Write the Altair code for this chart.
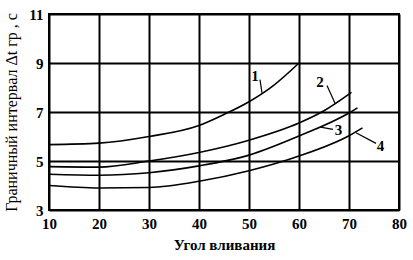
import altair as alt
import pandas as pd

# Curve data (x = pouring angle, y = boundary interval, s)
c1_x = [10, 20, 30, 40, 45, 50, 55, 60]
c1_y = [5.67, 5.73, 6.0, 6.45, 6.9, 7.42, 8.1, 9.0]
c2_x = [10, 20, 30, 40, 50, 60, 65, 70.5]
c2_y = [4.77, 4.75, 5.0, 5.35, 5.85, 6.55, 7.05, 7.8]
c3_x = [10, 20, 30, 40, 50, 60, 70, 71.7]
c3_y = [4.46, 4.42, 4.52, 4.8, 5.24, 6.02, 6.96, 7.17]
c4_x = [10, 20, 30, 40, 50, 60, 70, 72.7]
c4_y = [4.0, 3.9, 3.92, 4.17, 4.6, 5.2, 6.03, 6.35]

# Curve labels and leader lines
lab_text = ["1", "2", "3", "4"]
lab_x = [51.2, 64.2, 67.9, 76.3]
lab_y = [8.48, 8.24, 6.25, 5.6]
lead_x1 = [52.2, 65.6, 66.8, 71.4]
lead_y1 = [8.32, 8.08, 6.29, 6.15]
lead_x2 = [52.6, 67.2, 64.3, 75.4]
lead_y2 = [7.78, 7.36, 6.38, 5.72]

x_ticks = [10, 20, 30, 40, 50, 60, 70, 80]
y_ticks = [3, 5, 7, 9, 11]

rows = []
for name, xs, ys in [("1", c1_x, c1_y), ("2", c2_x, c2_y), ("3", c3_x, c3_y), ("4", c4_x, c4_y)]:
    for xv, yv in zip(xs, ys):
        rows.append({"curve": name, "x": xv, "y": yv})
curves = pd.DataFrame(rows)
labels = pd.DataFrame({"t": lab_text, "x": lab_x, "y": lab_y})
leaders = pd.DataFrame({"x": lead_x1, "y": lead_y1, "x2": lead_x2, "y2": lead_y2})

FONT = "Liberation Serif"

xs = alt.Scale(domain=[10, 80], nice=False, zero=False)
ys = alt.Scale(domain=[3, 11], nice=False, zero=False)

x_axis = alt.Axis(values=x_ticks, title="Угол вливания", grid=True, gridColor="black",
                  gridWidth=2, gridOpacity=1, ticks=False, domain=False, labelPadding=6,
                  labelFont=FONT, labelFontSize=15, labelFontWeight="bold", labelColor="black",
                  titleFont=FONT, titleFontSize=15, titleFontWeight="bold", titleColor="black",
                  titlePadding=6, labelFlush=False)
y_axis = alt.Axis(values=y_ticks, title="Граничный интервал Δt гр , с", grid=True,
                  gridColor="black", gridWidth=2, gridOpacity=1, ticks=False, domain=False,
                  labelPadding=6, labelFont=FONT, labelFontSize=15, labelFontWeight="bold",
                  labelColor="black", titleFont=FONT, titleFontSize=16, titleFontWeight="normal",
                  titleColor="black", titlePadding=9, labelFlush=False)

lines = alt.Chart(curves).mark_line(color="black", strokeWidth=1.6, interpolate="monotone").encode(
    x=alt.X("x:Q", scale=xs, axis=x_axis),
    y=alt.Y("y:Q", scale=ys, axis=y_axis),
    detail="curve:N",
)

lead = alt.Chart(leaders).mark_rule(color="black", strokeWidth=1.2).encode(
    x=alt.X("x:Q", scale=xs), y=alt.Y("y:Q", scale=ys), x2="x2:Q", y2="y2:Q"
)

txt = alt.Chart(labels).mark_text(font=FONT, fontSize=15, fontWeight="bold", color="black",
                                  align="center", baseline="middle").encode(
    x=alt.X("x:Q", scale=xs), y=alt.Y("y:Q", scale=ys), text="t:N"
)

chart = alt.layer(lines, lead, txt).properties(
    width=350, height=196,
    autosize=alt.AutoSizeParams(type="none"),
    padding={"left": 49, "top": 14, "right": 14, "bottom": 50},
    background="white",
).configure_view(stroke="black", strokeWidth=2).configure_axis(
    labelFont=FONT, titleFont=FONT
).configure_text(font=FONT)

chart.save("out.html", embed_options={"renderer": "svg", "actions": False})
